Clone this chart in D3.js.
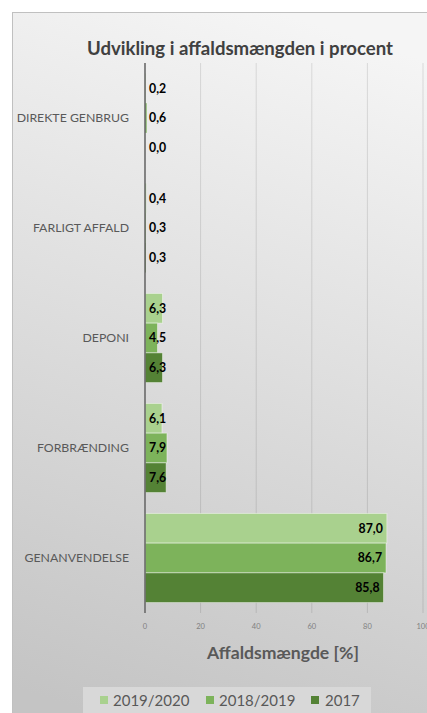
<!DOCTYPE html>
<html><head><meta charset="utf-8">
<script src="https://cdn.jsdelivr.net/npm/d3@7"></script>
<style>html,body{margin:0;padding:0;background:#fff;}svg{display:block;}</style>
</head><body>
<script>
const categories = ["DIREKTE GENBRUG", "FARLIGT AFFALD", "DEPONI", "FORBRÆNDING", "GENANVENDELSE"];
const seriesNames = ["2019/2020", "2018/2019", "2017"];
const values2019_2020 = [0.2, 0.4, 6.3, 6.1, 87.0];
const values2018_2019 = [0.6, 0.3, 4.5, 7.9, 86.7];
const values2017 = [0.0, 0.3, 6.3, 7.6, 85.8];
const xTicks = [0, 20, 40, 60, 80, 100];
const colors = ["#a9d18e", "#7db35b", "#548235"];
const seriesValues = [values2019_2020, values2018_2019, values2017];

const W = 427, H = 713;
const svg = d3.select("body").append("svg").attr("width", W).attr("height", H);
const defs = svg.append("defs");
const grad = defs.append("linearGradient").attr("id", "bg").attr("x1", "0.6").attr("y1", "0").attr("x2", "0.4").attr("y2", "1");
grad.append("stop").attr("offset", "0").attr("stop-color", "#f5f5f5");
grad.append("stop").attr("offset", "1").attr("stop-color", "#c4c4c4");

svg.append("rect").attr("x", 12.5).attr("y", 12.5).attr("width", W + 20).attr("height", H + 20)
  .attr("fill", "url(#bg)").attr("stroke", "#c0c0c0").attr("stroke-width", 1);

const x = d3.scaleLinear().domain([0, 100]).range([145, 423]);
const y = d3.scaleBand().domain(categories).range([63, 613]).paddingInner(0.19).paddingOuter(0.095);
const ySub = d3.scaleBand().domain(seriesNames).range([0, y.bandwidth()]);

// gridlines
svg.append("g").selectAll("line").data(xTicks.slice(1)).join("line")
  .attr("x1", d => x(d)).attr("x2", d => x(d)).attr("y1", 63).attr("y2", 613)
  .attr("stroke", "#000").attr("stroke-opacity", 0.11).attr("stroke-width", 1);

// tick labels
svg.append("g").selectAll("text").data(xTicks).join("text")
  .attr("x", d => x(d)).attr("y", 629).attr("text-anchor", "middle")
  .attr("font-family", "Lato, sans-serif").attr("font-size", 7.5).attr("fill", "#808080")
  .text(d => d);

// bars
const rows = [];
categories.forEach((c, i) => seriesNames.forEach((s, j) => rows.push({c, s, j, v: seriesValues[j][i]})));
const g = svg.append("g");
g.selectAll("rect").data(rows).join("rect")
  .attr("x", x(0)).attr("y", d => y(d.c) + ySub(d.s))
  .attr("width", d => x(d.v) - x(0)).attr("height", ySub.bandwidth())
  .attr("fill", d => colors[d.j])
  .attr("stroke", d => d.v > 1 ? "rgba(255,255,255,0.45)" : "none").attr("stroke-width", 1);

// axis line
svg.append("line").attr("x1", x(0)).attr("x2", x(0)).attr("y1", 63).attr("y2", 613)
  .attr("stroke", "#6a6a6a").attr("stroke-width", 1.6);

// value labels
const fmt = v => d3.format(".1f")(v).replace(".", ",");
const lbl = g.selectAll("text.v").data(rows).join("text").attr("class", "v")
  .attr("y", d => y(d.c) + ySub(d.s) + ySub.bandwidth() / 2)
  .attr("dy", "0.36em").attr("text-anchor", "end")
  .attr("font-family", "Lato, sans-serif").attr("font-weight", "bold").attr("font-size", 12.3)
  .attr("fill", "#000").text(d => fmt(d.v));
lbl.each(function(d) {
  const w = this.getComputedTextLength();
  d3.select(this).attr("x", Math.max(x(d.v) - 4, x(0) + 4 + w));
});

// category labels
svg.append("g").selectAll("text").data(categories).join("text")
  .attr("x", 129).attr("y", d => y(d) + y.bandwidth() / 2).attr("dy", "0.36em")
  .attr("text-anchor", "end").attr("font-family", "Lato, sans-serif").attr("font-size", 12.3)
  .attr("fill", "#595959").text(d => d);

// title
svg.append("text").attr("x", 240).attr("y", 55).attr("text-anchor", "middle")
  .attr("font-family", "Lato, sans-serif").attr("font-weight", "bold").attr("font-size", 18.6)
  .attr("fill", "#404040").text("Udvikling i affaldsmængden i procent");

// axis title
svg.append("text").attr("x", 283).attr("y", 659).attr("text-anchor", "middle")
  .attr("font-family", "Lato, sans-serif").attr("font-weight", "bold").attr("font-size", 17.6)
  .attr("fill", "#595959").text("Affaldsmængde [%]");

// legend
svg.append("rect").attr("x", 83).attr("y", 687).attr("width", 288).attr("height", 30).attr("fill", "#d8d8d8");
const legX = [100, 206, 311];
const lg = svg.append("g").selectAll("g").data(seriesNames).join("g")
  .attr("transform", (d, i) => `translate(${legX[i]},0)`);
lg.append("rect").attr("x", 0).attr("y", 696).attr("width", 8).attr("height", 8).attr("fill", (d, i) => colors[i]);
lg.append("text").attr("x", (d, i) => i === 2 ? 14 : 13).attr("y", 706).attr("font-family", "Lato, sans-serif").attr("font-size", 15)
  .attr("fill", "#595959").text(d => d);
</script>
</body></html>
